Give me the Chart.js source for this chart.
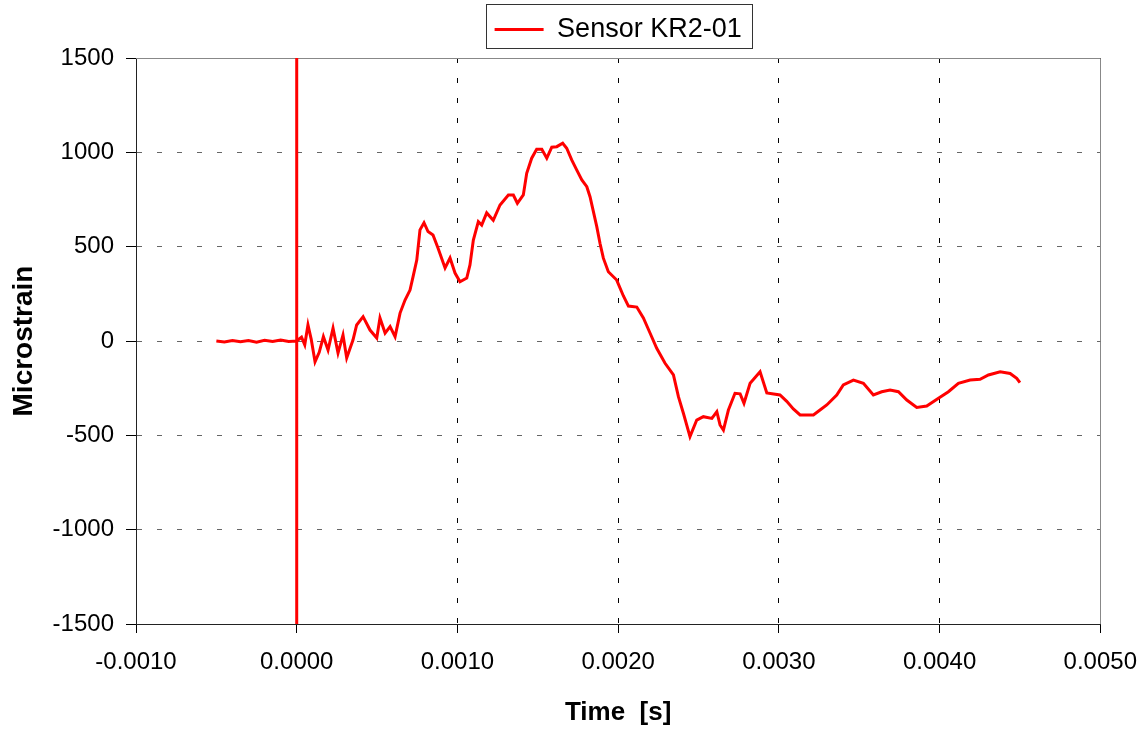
<!DOCTYPE html>
<html>
<head>
<meta charset="utf-8">
<title>Sensor KR2-01</title>
<script src="https://cdn.jsdelivr.net/npm/chart.js@4.4.1/dist/chart.umd.min.js"></script>
<style>
  body { margin: 0; background: #fff; }
  canvas { display: block; }
</style>
</head>
<body>
<canvas id="strainChart" width="1148" height="730"></canvas>
<script>
// time [s] and strain [microstrain]
const timeS = [
  -0.0005, -0.00045, -0.0004, -0.00035, -0.0003, -0.00025, -0.0002, -0.00015, -0.0001, -0.00005,
  0, 0, 0, 0,
  0.00003, 0.00005, 0.00007, 0.00009, 0.000114, 0.00014, 0.000166, 0.000195, 0.000226, 0.000257,
  0.000288, 0.000311, 0.00035, 0.000373, 0.000413, 0.000456, 0.000498, 0.000518, 0.00055, 0.000581,
  0.000612, 0.000643, 0.000674, 0.000705, 0.000724, 0.000747, 0.000767, 0.000792, 0.000817, 0.000848,
  0.000879, 0.000923, 0.000954, 0.000985, 0.001016, 0.001058, 0.001078, 0.001099, 0.00113, 0.001151,
  0.001182, 0.001223, 0.001265, 0.001317, 0.001348, 0.001373, 0.00141, 0.001431, 0.001462, 0.001493,
  0.001525, 0.001556, 0.001587, 0.001618, 0.001655, 0.00168, 0.001711, 0.001742, 0.001774, 0.001805,
  0.001825, 0.001846, 0.001867, 0.001887, 0.001908, 0.001939, 0.001991, 0.002032, 0.002064, 0.002116,
  0.002157, 0.002199, 0.00224, 0.002292, 0.002344, 0.002375, 0.002406, 0.002447, 0.002489, 0.00253,
  0.002583, 0.002614, 0.002634, 0.002655, 0.002686, 0.002727, 0.002759, 0.002783, 0.002821, 0.002883,
  0.002925, 0.003007, 0.003049, 0.00309, 0.003132, 0.003215, 0.003256, 0.003298, 0.00336, 0.003401,
  0.003464, 0.003526, 0.003588, 0.00364, 0.003692, 0.003744, 0.003796, 0.003858, 0.00392, 0.003993,
  0.004055, 0.004117, 0.00419, 0.004252, 0.004304, 0.004377, 0.004439, 0.00448, 0.0045
];
const strain = [
  0, -5, 3, -4, 2, -6, 4, -3, 5, -2,
  0, 1500, -1500, 0,
  20, -20, 85, 10, -110, -60, 23, -48, 68, -64,
  32, -90, 5, 85, 129, 58, 16, 122, 42, 76,
  23, 148, 217, 270, 341, 429, 589, 627, 580, 562,
  493, 387, 440, 360, 314, 334, 403, 535, 633, 615,
  679, 640, 721, 774, 774, 730, 774, 889, 969, 1016,
  1016, 969, 1027, 1030, 1048, 1022, 960, 907, 854, 818,
  765, 686, 606, 518, 439, 367, 323, 240, 185, 180,
  122, 41, -39, -118, -180, -295, -383, -507, -419, -401,
  -410, -375, -445, -472, -366, -277, -280, -330, -224, -163,
  -275, -286, -320, -360, -392, -392, -366, -339, -286, -233,
  -207, -224, -286, -269, -260, -269, -313, -352, -345, -304,
  -269, -224, -207, -203, -180, -163, -172, -198, -221
];
const seriesName = 'Sensor KR2-01';
const xTicks = { min: -0.001, max: 0.005, step: 0.001 };
const yTicks = { min: -1500, max: 1500, step: 500 };

Chart.defaults.font.family = '"Liberation Sans", Arial, sans-serif';
Chart.defaults.color = '#000';

// legend sits a bit higher than chart.js leaves room for, and has a frame
const legendFrame = {
  id: 'legendFrame',
  beforeLayout(chart) {
    const lg = chart.legend;
    if (lg && !lg._extra) {
      const fit = lg.fit;
      lg.fit = function () { fit.call(this); this.height += 5; };
      lg._extra = true;
    }
  },
  afterDraw(chart) {
    const hb = chart.legend && chart.legend.legendHitBoxes[0];
    if (!hb) return;
    const ctx = chart.ctx;
    ctx.save();
    ctx.strokeStyle = '#333';
    ctx.lineWidth = 1;
    ctx.strokeRect(Math.round(hb.left - 9) + 0.5, 4.5, Math.round(hb.width + 19), 44);
    ctx.restore();
  }
};

// top and right edge of the plot box
const plotFrame = {
  id: 'plotFrame',
  beforeDatasetsDraw(chart) {
    const { ctx, chartArea: a } = chart;
    ctx.save();
    ctx.strokeStyle = '#888';
    ctx.lineWidth = 1;
    ctx.beginPath();
    ctx.moveTo(Math.round(a.left), Math.round(a.top) + 0.5);
    ctx.lineTo(Math.round(a.right) + 0.5, Math.round(a.top) + 0.5);
    ctx.lineTo(Math.round(a.right) + 0.5, Math.round(a.bottom));
    ctx.stroke();
    ctx.restore();
  }
};

new Chart(document.getElementById('strainChart'), {
  type: 'line',
  data: {
    datasets: [{
      label: seriesName,
      data: timeS.map((t, i) => ({ x: t, y: strain[i] })),
      borderColor: '#ff0000',
      backgroundColor: '#ff0000',
      borderWidth: 3,
      pointRadius: 0,
      tension: 0
    }]
  },
  options: {
    responsive: false,
    animation: false,
    layout: { padding: { top: 6, right: 44, left: 0, bottom: 0 } },
    plugins: {
      legend: {
        position: 'top',
        fullSize: false,
        labels: {
          font: { size: 27 },
          color: '#000',
          boxWidth: 49,
          boxHeight: 0,
          padding: 10
        }
      },
      tooltip: { enabled: false }
    },
    scales: {
      x: {
        type: 'linear',
        min: xTicks.min,
        max: xTicks.max,
        ticks: {
          stepSize: xTicks.step,
          font: { size: 24, lineHeight: 1.53 },
          color: '#000',
          padding: 11,
          maxRotation: 0,
          callback: v => v.toFixed(4)
        },
        grid: { color: '#000', lineWidth: 1, tickLength: 9, tickColor: '#000' },
        border: { color: '#222', width: 1, dash: [5, 15] },
        title: {
          display: true,
          text: 'Time  [s]',
          font: { size: 26, weight: 'bold' },
          color: '#000',
          padding: { top: 2, bottom: 2 }
        },
        afterFit: s => { s.height = 106; }
      },
      y: {
        min: yTicks.min,
        max: yTicks.max,
        ticks: {
          stepSize: yTicks.step,
          font: { size: 24 },
          color: '#000',
          padding: 12,
          callback: v => String(v)
        },
        grid: { color: '#666', lineWidth: 1, tickLength: 10, tickColor: '#000' },
        border: { color: '#222', width: 1, dash: [5, 15] },
        title: {
          display: true,
          text: 'Microstrain',
          font: { size: 28, weight: 'bold' },
          color: '#000',
          padding: { top: 7, bottom: 0 }
        },
        afterFit: s => { s.width = 136; }
      }
    }
  },
  plugins: [legendFrame, plotFrame]
});
</script>
</body>
</html>
